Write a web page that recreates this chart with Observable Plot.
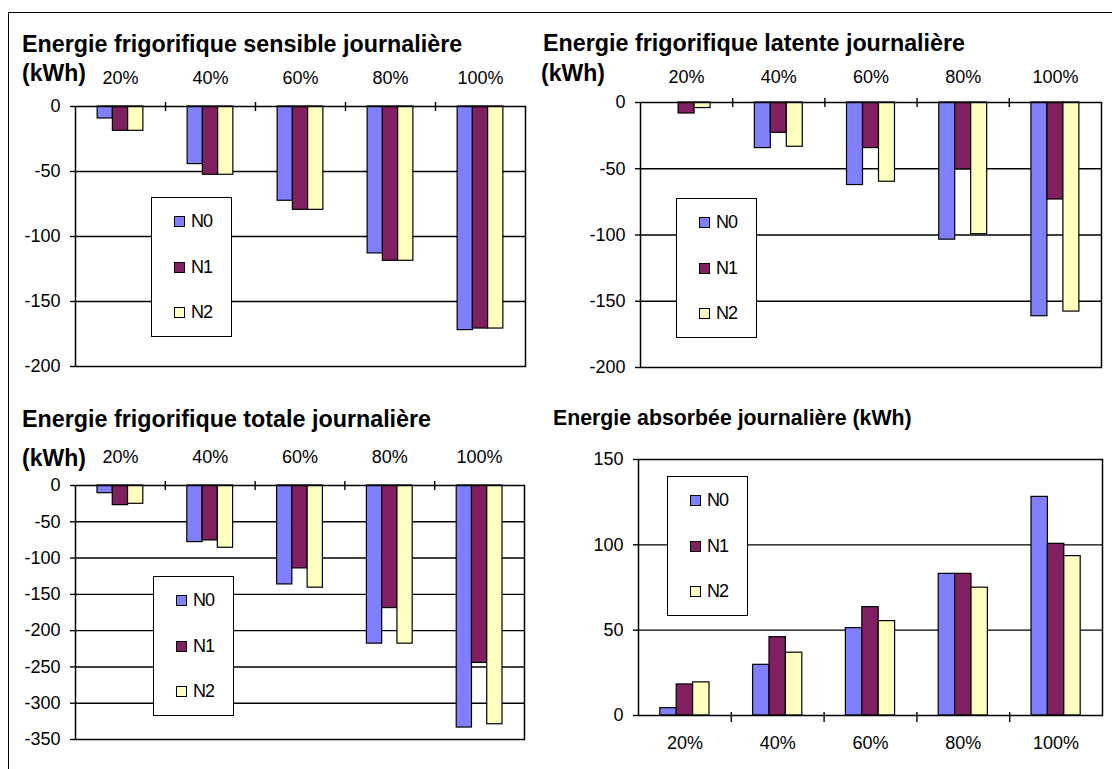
<!DOCTYPE html>
<html><head><meta charset="utf-8">
<script src="https://cdn.jsdelivr.net/npm/d3@7"></script>
<script src="https://cdn.jsdelivr.net/npm/@observablehq/plot@0.6"></script>
<style>
body{margin:0;background:#fff;}
#root{position:relative;width:1112px;height:769px;overflow:hidden;font-family:"Liberation Sans",Arial,sans-serif;background:#fff;}
.panel{position:absolute;}
.legend{position:absolute;width:81px;height:140px;border:1.5px solid #000;background:#fff;box-sizing:border-box;}
.legend .item{position:absolute;left:22px;height:20px;display:flex;align-items:center;font-size:18px;letter-spacing:-1px;}
.legend .sw{width:11px;height:11px;border:1.2px solid #000;box-sizing:border-box;margin-right:6px;}
#overlay{position:absolute;left:0;top:0;pointer-events:none;}
</style></head><body><div id="root"></div>
<script>
const categories = ["20%", "40%", "60%", "80%", "100%"];
const series = ["N0", "N1", "N2"];
const colors = ["#8080FF", "#802060", "#FFFFC0"];

// Energie frigorifique sensible journalière (kWh)
const sensibleN0 = [-9.2, -44.3, -72.5, -113, -172];
const sensibleN1 = [-18.7, -52.5, -79.5, -118.7, -170.8];
const sensibleN2 = [-18.7, -52.5, -79.5, -118.7, -170.8];
// Energie frigorifique latente journalière (kWh)
const latenteN0 = [0, -34.4, -62.3, -103.5, -161.3];
const latenteN1 = [-8.3, -22.9, -34.4, -50.5, -73.2];
const latenteN2 = [-4.2, -33.4, -59.8, -99.4, -157.8];
// Energie frigorifique totale journalière (kWh)
const totaleN0 = [-10.6, -78, -136.3, -217.9, -333.5];
const totaleN1 = [-27.1, -75.7, -114.2, -168.9, -244.5];
const totaleN2 = [-25.2, -85.8, -140.8, -217.9, -329];
// Energie absorbée journalière (kWh)
const absorbeeN0 = [4.3, 29.7, 51.2, 83, 128.1];
const absorbeeN1 = [18.2, 45.9, 63.5, 83, 100.6];
const absorbeeN2 = [19.4, 36.8, 55.3, 74.9, 93.4];

const ticksSensible = [0, -50, -100, -150, -200];
const ticksLatente = [0, -50, -100, -150, -200];
const ticksTotale = [0, -50, -100, -150, -200, -250, -300, -350];
const ticksAbsorbee = [0, 50, 100, 150];

const titles = [
  "Energie frigorifique sensible journalière",
  "Energie frigorifique latente journalière",
  "Energie frigorifique totale journalière",
  "Energie absorbée journalière (kWh)"
];
const unitLabel = "(kWh)";

const root = document.getElementById("root");

function panel(cfg) {
  const data = [];
  cfg.values.forEach((vals, si) => vals.forEach((v, ci) => data.push({cat: categories[ci], ci, series: series[si], si, v})));
  const g = cfg.group, w = g / 3;
  const bounds = d3.range(1, categories.length);
  const ext = d3.extent(cfg.yTicks);
  const grid = cfg.yTicks.filter(t => t !== ext[0] && t !== ext[1]);
  const svg = Plot.plot({
    width: cfg.width, height: cfg.height,
    marginLeft: cfg.mL, marginRight: cfg.mR, marginTop: cfg.mT, marginBottom: cfg.mB,
    style: {fontFamily: '"Liberation Sans", Arial, sans-serif', fontSize: "18px", background: "transparent", overflow: "visible", color: "#000"},
    x: {domain: [0, categories.length], axis: null},
    y: {domain: ext, label: null},
    color: {domain: series, range: colors},
    marks: [
      Plot.ruleY(grid, {stroke: "#000", strokeWidth: 1.4}),
      Plot.rect(data, {
        x1: d => d.ci + (1 - g) / 2 + d.si * w,
        x2: d => d.ci + (1 - g) / 2 + (d.si + 1) * w,
        y1: 0, y2: "v", fill: "series", stroke: "#000", strokeWidth: 1.2
      }),
      Plot.frame({stroke: "#000", strokeWidth: 1.5}),
      Plot.axisY({ticks: cfg.yTicks, tickSize: 5, tickPadding: 10, fontSize: 18, label: null, strokeWidth: 1.4, tickFormat: d => String(d)}),
      Plot.ruleX(bounds, {x: d => d, y1: 0, y2: 0, insetTop: -cfg.tickUp, insetBottom: -cfg.tickDown, stroke: "#000", strokeWidth: 1.4}),
      Plot.text(categories, {x: (d, i) => i + 0.5, frameAnchor: cfg.labelAnchor, dy: cfg.labelDy, text: d => d, fontSize: 18, lineAnchor: "bottom", fill: "#000"})
    ]
  });
  svg.classList.add("panel");
  svg.style.left = cfg.left + "px";
  svg.style.top = cfg.top + "px";
  root.appendChild(svg);

  const lg = document.createElement("div");
  lg.className = "legend";
  lg.style.left = cfg.legend[0] + "px";
  lg.style.top = cfg.legend[1] + "px";
  series.forEach((s, i) => {
    const it = document.createElement("div");
    it.className = "item";
    it.style.top = (13.5 + i * 45.5) + "px";
    const sw = document.createElement("span");
    sw.className = "sw";
    sw.style.background = colors[i];
    it.appendChild(sw);
    it.appendChild(document.createTextNode(s));
    lg.appendChild(it);
  });
  root.appendChild(lg);
}

panel({values: [sensibleN0, sensibleN1, sensibleN2], yTicks: ticksSensible, group: 0.508,
  left: 0, top: 60, width: 556, height: 320, mL: 75, mR: 31, mT: 46, mB: 14,
  tickUp: 4, tickDown: 5, labelAnchor: "top", labelDy: -23, legend: [151, 197]});
panel({values: [latenteN0, latenteN1, latenteN2], yTicks: ticksLatente, group: 0.52,
  left: 556, top: 60, width: 556, height: 320, mL: 84, mR: 11, mT: 42, mB: 13,
  tickUp: 4, tickDown: 5, labelAnchor: "top", labelDy: -20, legend: [676, 198]});
panel({values: [totaleN0, totaleN1, totaleN2], yTicks: ticksTotale, group: 0.51,
  left: 0, top: 430, width: 556, height: 339, mL: 75, mR: 32, mT: 55, mB: 30,
  tickUp: 4, tickDown: 5, labelAnchor: "top", labelDy: -23, legend: [153, 576]});
panel({values: [absorbeeN0, absorbeeN1, absorbeeN2], yTicks: ticksAbsorbee, group: 0.53,
  left: 556, top: 430, width: 556, height: 339, mL: 82, mR: 10, mT: 29, mB: 54,
  tickUp: 3, tickDown: 7, labelAnchor: "bottom", labelDy: 33, legend: [667, 476]});

// overlay: outer border and titles
const ns = "http://www.w3.org/2000/svg";
const ov = document.createElementNS(ns, "svg");
ov.setAttribute("id", "overlay");
ov.setAttribute("width", 1112);
ov.setAttribute("height", 769);
const border = document.createElementNS(ns, "rect");
border.setAttribute("x", 8.5); border.setAttribute("y", 12.5);
border.setAttribute("width", 1200); border.setAttribute("height", 900);
border.setAttribute("fill", "none"); border.setAttribute("stroke", "#000");
ov.appendChild(border);
const titleSpecs = [
  [titles[0], 22, 52, 23.3], [unitLabel, 22, 81, 23],
  [titles[1], 543, 51, 23.3], [unitLabel, 541, 81, 23],
  [titles[2], 22, 427, 23.3], [unitLabel, 22, 466, 23],
  [titles[3], 553, 425, 21.3]
];
titleSpecs.forEach(([t, x, y, fs]) => {
  const el = document.createElementNS(ns, "text");
  el.setAttribute("x", x); el.setAttribute("y", y);
  el.setAttribute("font-family", '"Liberation Sans", Arial, sans-serif');
  el.setAttribute("font-weight", "bold");
  el.setAttribute("font-size", fs);
  el.setAttribute("fill", "#000");
  el.textContent = t;
  ov.appendChild(el);
});
root.appendChild(ov);
</script>
</body></html>
